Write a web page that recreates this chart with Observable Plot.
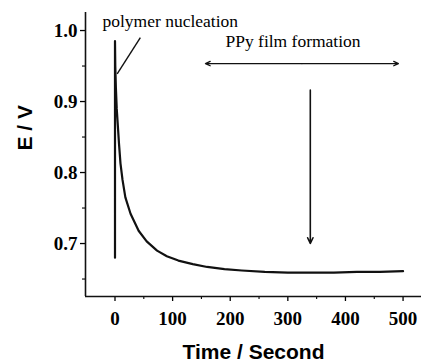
<!DOCTYPE html>
<html><head><meta charset="utf-8">
<script src="https://cdn.jsdelivr.net/npm/d3@7"></script>
<script src="https://cdn.jsdelivr.net/npm/@observablehq/plot@0.6"></script>
<style>body{margin:0;background:#fff}</style>
</head><body><div id="chart"></div>
<script>
// Chronopotentiogram data
const timeS      = [0,    0,     0.5,  1.5,  3,    5,     7,    9.5,   13,   18,    27,    41,    55,    73,    90,    110,   135,   160,   190,   220,   260,   300,   340,   380,   420,   460,   500];
const potentialV = [0.68, 0.985, 0.95, 0.92, 0.89, 0.865, 0.84, 0.813, 0.79, 0.765, 0.742, 0.718, 0.703, 0.690, 0.682, 0.676, 0.671, 0.667, 0.664, 0.662, 0.660, 0.659, 0.659, 0.659, 0.660, 0.660, 0.661];

const xTicks = [0, 100, 200, 300, 400, 500];
const xMinorTicks = [50, 150, 250, 350, 450];
const yTicks = [0.7, 0.8, 0.9, 1.0];
const yMinorTicks = [0.65, 0.75, 0.85, 0.95];
const xDomain = [-51.2, 532];
const yDomain = [0.6254, 1.0254];
const xLabel = "Time / Second";
const yLabel = "E / V";

const noteTexts = ["polymer nucleation", "PPy film formation"];
const noteT = [96, 309];
const noteE = [1.0135, 0.9846];
const leaderT = [44, 3.8];
const leaderE = [0.990, 0.939];
const filmArrowT = [157, 492];
const filmArrowE = 0.9535;
const markArrowT = 339;
const markArrowE = [0.916, 0.700];

const data = timeS.map((t, i) => ({t, e: potentialV[i]}));
const notes = noteTexts.map((text, i) => ({text, t: noteT[i], e: noteE[i]}));
const filmMid = (filmArrowT[0] + filmArrowT[1]) / 2;
const ink = "#111";
const serifFont = "Liberation Serif";
const sansFont = "Liberation Sans";

const chart = Plot.plot({
  width: 422,
  height: 362,
  marginLeft: 85,
  marginRight: 1,
  marginTop: 12,
  marginBottom: 66,
  style: {fontFamily: serifFont, fontSize: "19px", fontWeight: "bold", color: "#000", background: "#fff"},
  x: {domain: xDomain},
  y: {domain: yDomain},
  marks: [
    Plot.axisX({ticks: xTicks, tickSize: 5, tickPadding: 10, tickFormat: d => String(d), label: null, strokeWidth: 1.3, fontFamily: serifFont}),
    Plot.axisX({ticks: xMinorTicks, tickSize: 3, tickFormat: () => "", label: null, strokeWidth: 1.1}),
    Plot.axisY({ticks: yTicks, tickSize: 5, tickPadding: 3, tickFormat: d => d.toFixed(1), label: null, strokeWidth: 1.3, fontFamily: serifFont}),
    Plot.axisY({ticks: yMinorTicks, tickSize: 3, tickFormat: () => "", label: null, strokeWidth: 1.1}),
    Plot.ruleX([xDomain[0]], {stroke: ink, strokeWidth: 1.6}),
    Plot.ruleY([yDomain[0]], {stroke: ink, strokeWidth: 1.6}),
    Plot.line(data, {x: "t", y: "e", stroke: ink, strokeWidth: 2.2, curve: "linear"}),
    Plot.link([{}], {x1: () => leaderT[0], y1: () => leaderE[0], x2: () => leaderT[1], y2: () => leaderE[1], stroke: ink, strokeWidth: 1.4}),
    Plot.arrow([0, 1], {x1: () => filmMid, y1: () => filmArrowE, x2: (d) => filmArrowT[d], y2: () => filmArrowE, stroke: ink, strokeWidth: 1.3, headLength: 6, headAngle: 50}),
    Plot.arrow([{}], {x1: () => markArrowT, y1: () => markArrowE[0], x2: () => markArrowT, y2: () => markArrowE[1], stroke: ink, strokeWidth: 1.6, headLength: 6, headAngle: 50}),
    Plot.text(notes, {x: "t", y: "e", text: "text", fontSize: 17.5, fontWeight: "normal", fontFamily: serifFont, fill: "#000", lineAnchor: "middle"}),
    Plot.text([xLabel], {frameAnchor: "bottom", dy: 56, text: d => d, fontSize: 21, fontWeight: "bold", fontFamily: sansFont, fill: "#000", lineAnchor: "middle"}),
    Plot.text([yLabel], {frameAnchor: "left", dx: -60, dy: -4, rotate: -90, text: d => d, fontSize: 21, fontWeight: "bold", fontFamily: sansFont, fill: "#000", lineAnchor: "middle"})
  ]
});
chart.setAttribute("font-family", serifFont);
document.getElementById("chart").appendChild(chart);
</script>
</body></html>
